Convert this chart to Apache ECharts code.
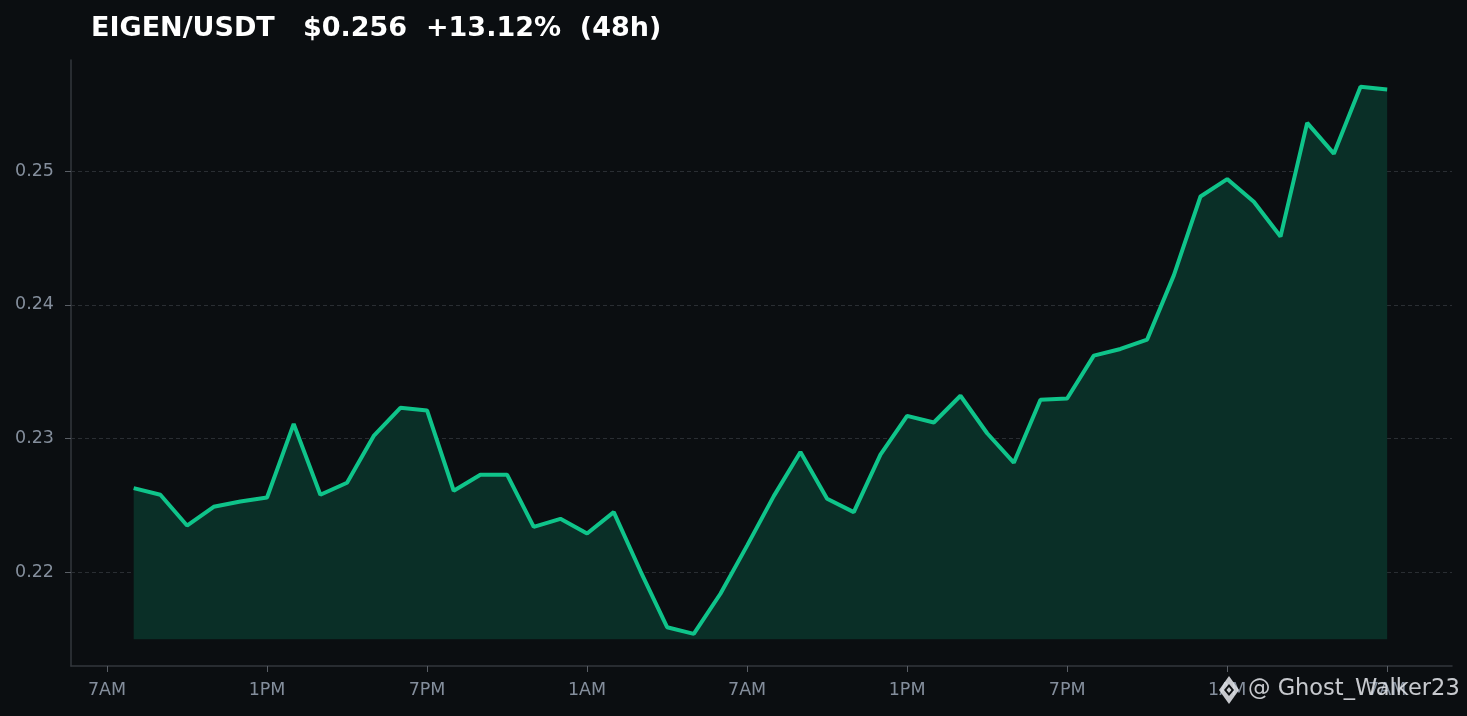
<!DOCTYPE html>
<html>
<head>
<meta charset="utf-8">
<script src="https://cdn.jsdelivr.net/npm/echarts@6/dist/echarts.min.js"></script>
<style>
html,body{margin:0;padding:0;background:#0b0e11;}
#chart{width:1467px;height:716px;}
</style>
</head>
<body>
<div id="chart"></div>
<script>
// hours after 7AM of the first day, one point per hour
var hours = [];
for (var h = 1; h <= 48; h++) hours.push(h);
var prices = [
  0.2263, 0.2258, 0.2235, 0.2249, 0.2253, 0.2256, 0.2311, 0.2258, 0.2267, 0.2302,
  0.2323, 0.2321, 0.2261, 0.2273, 0.2273, 0.2234, 0.2240, 0.2229, 0.2245, 0.2201,
  0.2159, 0.2154, 0.2184, 0.2220, 0.2257, 0.2290, 0.2255, 0.2245, 0.2288, 0.2317,
  0.2312, 0.2332, 0.2304, 0.2282, 0.2329, 0.2330, 0.2362, 0.2367, 0.2374, 0.2422,
  0.2481, 0.2494, 0.2477, 0.2451, 0.2536, 0.2513, 0.2563, 0.2561
];
var tickHours = [0, 6, 12, 18, 24, 30, 36, 42, 48];
var tickLabels = ['7AM', '1PM', '7PM', '1AM', '7AM', '1PM', '7PM', '1AM', '7AM'];
var yTicks = [0.22, 0.23, 0.24, 0.25];
var fillBase = 0.215;

var chart = echarts.init(document.getElementById('chart'));
var labelFont = 'DejaVu Sans';
var wm = 'rgba(225,228,232,0.88)';

var option = {
  backgroundColor: '#0b0e11',
  animation: false,
  title: {
    text: 'EIGEN/USDT   $0.256  +13.12%  (48h)',
    left: 86,
    top: 10,
    textStyle: {color: '#ffffff', fontSize: 27, fontWeight: 'bold', fontFamily: labelFont}
  },
  grid: {left: 71, right: 15, top: 60, bottom: 50},
  xAxis: {
    type: 'value',
    min: -1.35,
    max: 50.43,
    axisLine: {show: true, onZero: false, lineStyle: {color: '#33373d', width: 1.5}},
    axisTick: {show: true, customValues: tickHours, length: 6, lineStyle: {color: '#5a5f66'}},
    axisLabel: {
      customValues: tickHours,
      color: '#848e9c',
      fontSize: 17.5,
      fontFamily: labelFont,
      margin: 15,
      formatter: function (v) {
        var i = tickHours.indexOf(Math.round(v));
        return i >= 0 ? tickLabels[i] : '';
      }
    },
    splitLine: {show: false}
  },
  yAxis: {
    type: 'value',
    min: 0.2130,
    max: 0.2583,
    axisLine: {show: true, onZero: false, lineStyle: {color: '#33373d', width: 1.5}},
    axisTick: {show: true, customValues: yTicks, length: 6, lineStyle: {color: '#5a5f66'}},
    axisLabel: {
      customValues: yTicks,
      color: '#848e9c',
      fontSize: 17.5,
      fontFamily: labelFont,
      margin: 17,
      formatter: function (v) { return String(+v.toFixed(2)); }
    },
    splitLine: {show: false}
  },
  series: [{
    type: 'line',
    data: hours.map(function (h, i) { return [h, prices[i]]; }),
    symbol: 'none',
    lineStyle: {color: '#0fc48a', width: 4},
    areaStyle: {color: '#0a2f27', opacity: 1, origin: fillBase},
    z: 3,
    markLine: {
      silent: true,
      symbol: 'none',
      label: {show: false},
      lineStyle: {color: '#2a2e33', type: [4, 3], width: 1},
      data: yTicks.map(function (v) { return {yAxis: v}; }),
      z: 1
    }
  }],
  graphic: [{
    type: 'text',
    left: 1248,
    top: 678,
    z: 100,
    style: {text: '@ Ghost_Walker23', fill: wm, font: '22.5px "DejaVu Sans"'}
  }, {
    type: 'polygon', z: 100,
    shape: {points: [[1229, 676], [1239, 690], [1229, 704], [1219, 690]]},
    style: {fill: wm}
  }, {
    type: 'polygon', z: 101,
    shape: {points: [[1229, 684], [1234, 690], [1229, 696], [1224, 690]]},
    style: {fill: '#0b0e11'}
  }, {
    type: 'polygon', z: 101,
    shape: {points: [[1229, 687], [1231.5, 690], [1229, 693], [1226.5, 690]]},
    style: {fill: wm}
  }]
};
chart.setOption(option);
</script>
</body>
</html>
